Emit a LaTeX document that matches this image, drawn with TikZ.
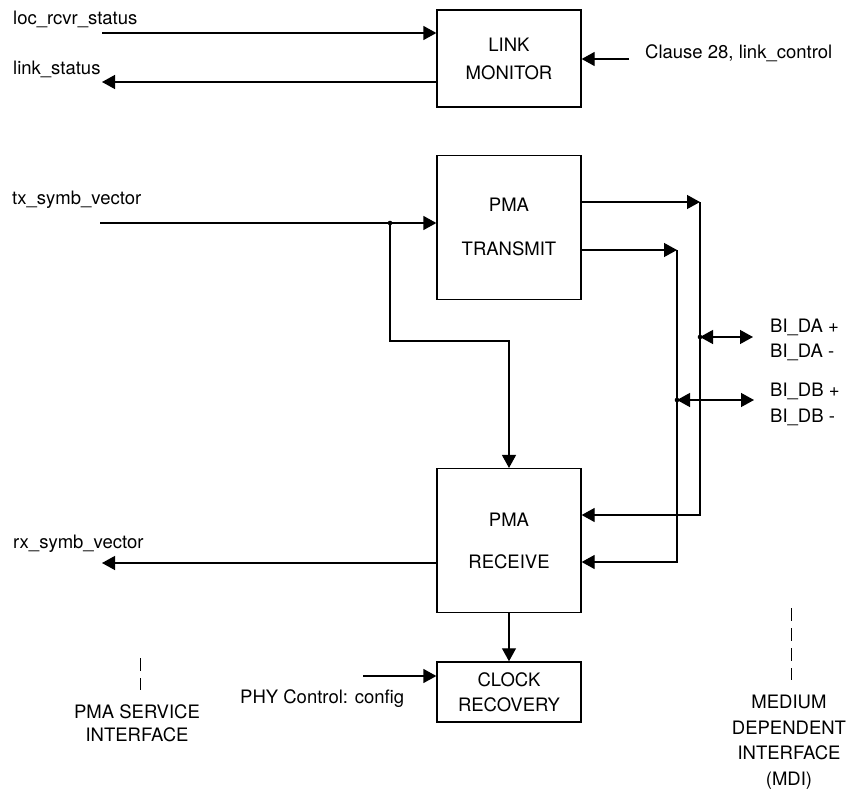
\documentclass[tikz,border=0pt]{standalone}
\usepackage{fontspec}
\setmainfont{TeX Gyre Heros}
\usetikzlibrary{arrows.meta,positioning,calc}
\tikzset{
  block/.style={
    draw=black,line width=1.3pt,fill=white,
    minimum width=144pt,inner sep=0pt,align=center
  },
  arrow/.style={-{Triangle[length=13pt,width=14pt]},line width=1.3pt},
  both/.style={{Triangle[length=13pt,width=14pt]}-{Triangle[length=13pt,width=14pt]},line width=1.3pt},
  joint/.style={circle,fill=black,inner sep=0pt,minimum size=4.6pt},
  sig/.style={anchor=base west,inner sep=0pt},
  note/.style={align=center,inner sep=0pt,anchor=north},
  iface/.style={dash pattern=on 13pt off 7pt,line width=1pt}
}
\begin{document}
\begin{tikzpicture}[x=1pt,y=-1pt,font=\fontsize{18.5}{22}\selectfont]
      \useasboundingbox (0,0) rectangle (849,790);
      % blocks
      \node[block,minimum height=97pt] (lm) at (509,58.5) {LINK\\[6pt]MONITOR};
      \node[block,minimum height=144pt,below=47pt of lm] (tx) {PMA\\[22pt]TRANSMIT};
      \node[block,minimum height=144pt,below=168pt of tx] (rx) {PMA\\[20pt]RECEIVE};
      \node[block,minimum height=60pt,below=48pt of rx] (ck) {CLOCK\\[3pt]RECOVERY};
      % service interface signals
      \node[sig] (locl) at (13,24.5) {loc\_rcvr\_status};
      \node[sig] (lsl) at (13,74) {link\_status};
      \node[sig] (txl) at (12,204) {tx\_symb\_vector};
      \node[sig] (rxl) at (13,548) {rx\_symb\_vector};
      \node[sig] (cll) at (645,58) {Clause 28, link\_control};
      \node[sig] (phyl) at (240,703) {PHY Control: config};
      \coordinate (locin) at (102,33);
      \coordinate (lsout) at (102,82);
      \coordinate (clin) at (629,59);
      \draw[arrow] (locin) -- (locin -| lm.west);
      \draw[arrow] (lsout -| lm.west) -- (lsout);
      \draw[arrow] (clin) -- (clin -| lm.east);
      \coordinate (txin) at (100,223);
      \coordinate (split) at (390,223);
      \coordinate (tap) at (390,341);
      \draw[arrow] (txin) -- (txin -| tx.west);
      \draw[arrow] (split) -- (tap) -| (rx.north);
      \node[joint] (j0) at (split) {};
      \coordinate (rxout) at (102,563);
      \draw[arrow] (rxout -| rx.west) -- (rxout);
      \draw[arrow] (rx) -- (ck);
      \coordinate (phyin) at (363,676);
      \draw[arrow] (phyin) -- (phyin -| ck.west);
      % medium side
      \coordinate (da) at (700,202);
      \coordinate (db) at (677,250);
      \coordinate (ra) at (700,515);
      \coordinate (rb) at (677,562);
      \draw[arrow] (da -| tx.east) -- (da);
      \draw[arrow] (db -| tx.east) -- (db);
      \draw[arrow] (da) -- (ra) -- (ra -| rx.east);
      \draw[arrow] (db) -- (rb) -- (rb -| rx.east);
      \coordinate (pa) at (700,337);
      \coordinate (qa) at (753,337);
      \coordinate (pb) at (677,400);
      \coordinate (qb) at (754,400);
      \draw[both] (pa) -- (qa);
      \draw[both] (pb) -- (qb);
      \node[joint] (ja) at (pa) {};
      \node[joint] (jb) at (pb) {};
      \node[sig] (dap) at (770,332) {BI\_DA +};
      \node[sig] (dam) at (770,357) {BI\_DA -};
      \node[sig] (dbp) at (770,396) {BI\_DB +};
      \node[sig] (dbm) at (770,422) {BI\_DB -};
      % interface marks
      \coordinate (psa) at (140,658);
      \coordinate (psb) at (140,690);
      \draw[iface] (psa) -- (psb);
      \node[note] (psl) at (137,704) {PMA SERVICE\\[1pt]INTERFACE};
      \coordinate (mda) at (791,608);
      \coordinate (mdb) at (791,680);
      \draw[iface] (mda) -- (mdb);
      \node[note] (mdl) at (789,695) {MEDIUM\\[3.5pt]DEPENDENT\\[3.5pt]INTERFACE\\[3.5pt](MDI)};
    \end{tikzpicture}
\end{document}
